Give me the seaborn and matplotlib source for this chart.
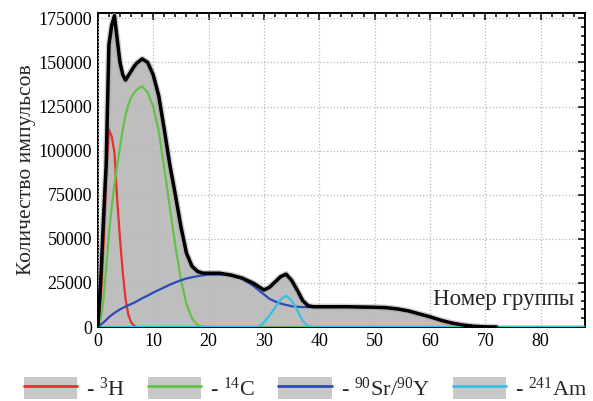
import matplotlib
matplotlib.use('Agg')
import matplotlib.pyplot as plt
import seaborn as sns
import pandas as pd
from matplotlib.patches import Patch
from matplotlib.lines import Line2D
from matplotlib.legend_handler import HandlerTuple
from matplotlib.ticker import MultipleLocator

# Номер группы (канал спектра)
group = [0, 0.5, 1, 1.5, 2, 2.5, 3, 3.5, 4, 4.5, 5, 5.5, 6, 6.5, 7, 8, 9, 10,
         11, 12, 13, 14, 15, 16, 17, 18, 19, 20, 22, 24, 26, 28, 29, 30, 31,
         32, 33, 34, 35, 36, 37, 38, 39, 40, 45, 50, 52, 54, 56, 58, 60, 62,
         64, 66, 68, 70, 72, 75, 80, 88]

# суммарный спектр (None - нет данных)
total = [0, 25000, 60000, 92000, 160000, 171000, 176500, 163000, 150000, 143000,
         140000, 142500, 145000, 147500, 149500, 152000, 150000, 143000,
         131000, 112000, 92000, 75000, 57000, 42000, 34500, 31500, 30500, 30500,
         30500, 29500, 27800, 25000, 23000, 21000, 22500,
         25500, 28500, 30000, 26500, 21000, 15000, 12000, 11500, 11500, 11500,
         11200, 11000, 10300, 9200, 7500, 5800, 3800,
         2200, 1100, 400, 100, 0, None, None, None]

# 3H
h3 = [0, 15000, 45000, 85000, 112000, 108000, 99000, 72000, 50000, 31000,
      16000, 7000, 2700, 800, 0, 0, 0, 0,
      0, 0, 0, 0, 0, 0, 0, 0, 0, 0, 0, 0, 0, 0, 0, 0, 0,
      0, 0, 0, 0, 0, 0, 0, 0, 0, 0, 0, 0, 0, 0, 0, 0, 0,
      0, 0, 0, 0, 0, 0, 0, 0]

# 14C
c14 = [0, 4000, 15000, 33000, 53000, 68000, 81000, 92000, 102000, 112000,
       120000, 126000, 130000, 132500, 134500, 136500, 133000, 125000,
       111000, 90000, 68000, 46000, 27000, 13000, 5000, 1200, 0, 0,
       0, 0, 0, 0, 0, 0, 0,
       0, 0, 0, 0, 0, 0, 0, 0, 0, 0, 0, 0, 0, 0, 0, 0, 0,
       0, 0, 0, 0, 0, 0, 0, 0]

# 90Sr/90Y
sr90 = [0, 1200, 2500, 4000, 5500, 6800, 8000, 9000, 10000, 10800,
        11600, 12300, 13000, 13700, 14500, 16300, 17800, 19500,
        21000, 22500, 24000, 25300, 26500, 27500, 28200, 28800, 29300, 29700,
        29800, 29300, 27500, 23500, 21000, 18500, 16000,
        14500, 13300, 12500, 11800, 11500, 11300, 11300, 11300, 11300, 11400,
        11200, 11000, 10300, 9200, 7500, 5800, 3800,
        2200, 1100, 400, 100, 0, 0, 0, 0]

# 241Am
am241 = [0, 0, 0, 0, 0, 0, 0, 0, 0, 0,
         0, 0, 0, 0, 0, 0, 0, 0,
         0, 0, 0, 0, 0, 0, 0, 0, 0, 0,
         0, 0, 0, 0, 0, 2500, 6500,
         11000, 15500, 17800, 15000, 9700, 3500, 500, 0, 0, 0,
         0, 0, 0, 0, 0, 0, 0,
         0, 0, 0, 0, 0, 0, 0, 0]

labels = [r'- $^{3}$H', r'- $^{14}$C', r'- $^{90}$Sr/$^{90}$Y', r'- $^{241}$Am']
colors = ['#e8302e', '#62c246', '#2a4cb4', '#36c0e4']

df = pd.DataFrame({'group': group, 'total': total, 'h3': h3, 'c14': c14,
                   'sr90': sr90, 'am241': am241})
df_tot = df.dropna(subset=['total'])

sns.set_theme(style='white')
plt.rcParams['font.family'] = ['Liberation Serif', 'DejaVu Serif']
plt.rcParams['mathtext.default'] = 'regular'

fig = plt.figure(figsize=(5.93, 4.01), dpi=100)
ax = fig.add_axes([0.165, 0.1845, 0.8215, 0.783])

ax.fill_between(df_tot['group'], 0, df_tot['total'], color='#bebebe', lw=0,
                zorder=1)
sns.lineplot(data=df_tot, x='group', y='total', color='#a0a0a0', lw=4.5,
             alpha=0.5, ax=ax, zorder=3)
for col, c in zip(['h3', 'c14', 'sr90', 'am241'], colors):
    sns.lineplot(data=df, x='group', y=col, color=c, lw=1.6, ax=ax, zorder=4)
sns.lineplot(data=df_tot, x='group', y='total', color='black', lw=2.5, ax=ax,
             zorder=5)

ax.set_xlim(0, 88)
ax.set_ylim(0, 178000)
ax.xaxis.set_major_locator(MultipleLocator(10))
ax.xaxis.set_minor_locator(MultipleLocator(2))
ax.yaxis.set_major_locator(MultipleLocator(25000))
ax.yaxis.set_minor_locator(MultipleLocator(5000))
ax.tick_params(which='both', direction='in', top=True, right=True,
               labelsize=13, colors='black', width=1.1, pad=4)
ax.tick_params(which='major', length=5)
ax.tick_params(which='minor', length=3)
ax.set_axisbelow(False)
ax.grid(True, which='major', ls=':', color='#b8b8b8', lw=0.9)
for s in ax.spines.values():
    s.set_color('black')
    s.set_linewidth(1.4)

ax.set_xlabel('')
ax.set_ylabel('Количество импульсов', fontsize=15.5, labelpad=2)
ax.text(0.977, 0.07, 'Номер группы', transform=ax.transAxes,
        ha='right', va='baseline', fontsize=16.5, zorder=6)

handles = [(Patch(facecolor='#c8c8c8', edgecolor='none'),
            Line2D([], [], color=c, lw=2)) for c in colors]
fig.legend(handles, labels, loc='center', bbox_to_anchor=(0.515, 0.03), ncol=4,
           frameon=False, fontsize=16, handlelength=2.4, handleheight=1.15,
           handletextpad=0.4, columnspacing=1.05,
           handler_map={tuple: HandlerTuple(ndivide=1)})

fig.savefig('out.png', dpi=100)
